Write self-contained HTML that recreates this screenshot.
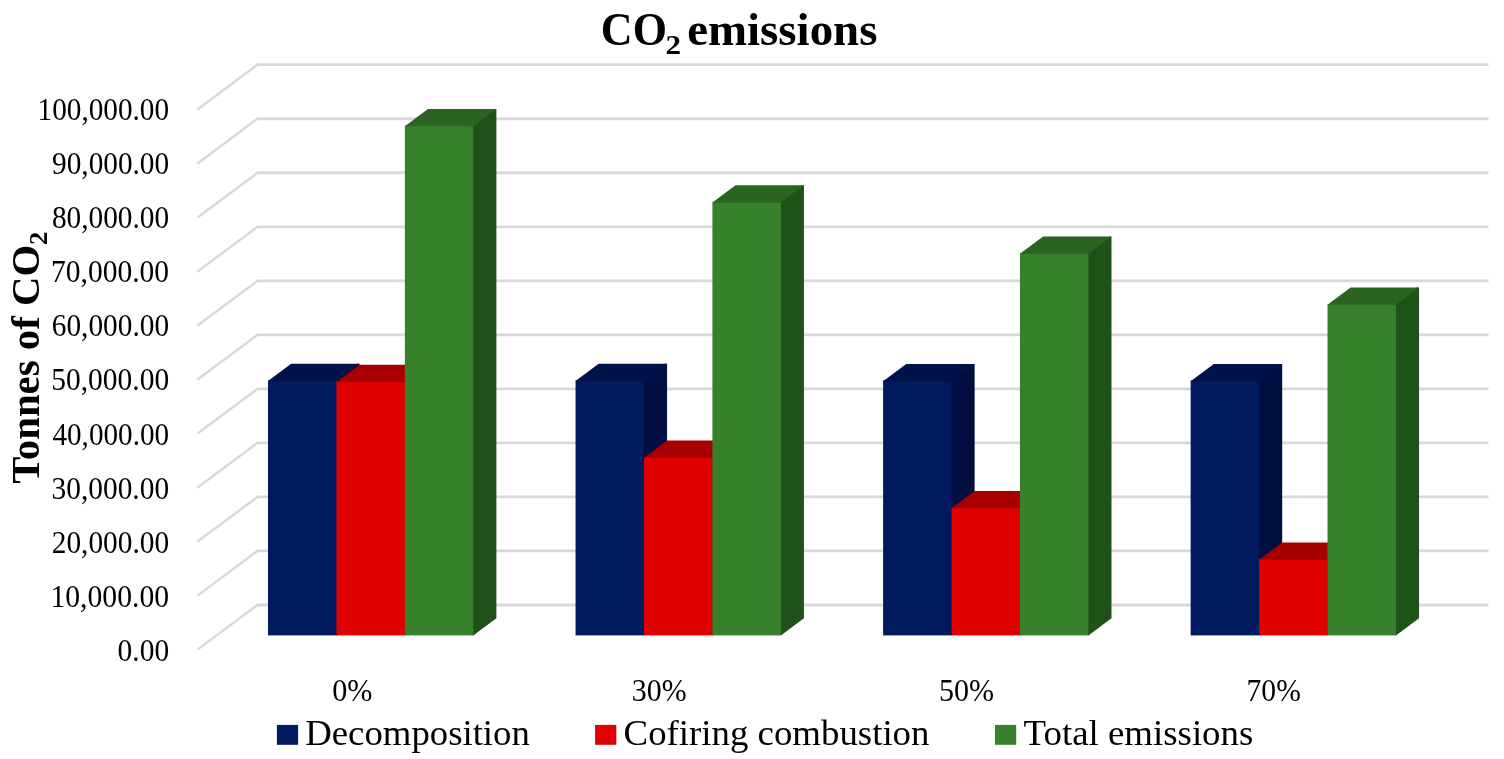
<!DOCTYPE html>
<html><head><meta charset="utf-8"><title>CO2 emissions</title>
<style>
html,body{margin:0;padding:0;background:#fff;}
body{width:1504px;height:759px;overflow:hidden;}
svg{display:block;}
text{font-family:"Liberation Serif","DejaVu Serif",serif;fill:#000;}
</style></head><body>
<svg width="1504" height="759" viewBox="0 0 1504 759">
<rect width="1504" height="759" fill="#fff"/>
<line x1="198.2" y1="649.10" x2="257.5" y2="605.00" stroke="#d9d9d9" stroke-width="2.4" stroke-linecap="round"/>
<line x1="256.9" y1="605.00" x2="1488.5" y2="605.00" stroke="#d9d9d9" stroke-width="2.8"/>
<line x1="198.2" y1="595.09" x2="257.5" y2="550.97" stroke="#d9d9d9" stroke-width="2.4" stroke-linecap="round"/>
<line x1="256.9" y1="550.97" x2="1488.5" y2="550.97" stroke="#d9d9d9" stroke-width="2.8"/>
<line x1="198.2" y1="541.08" x2="257.5" y2="496.94" stroke="#d9d9d9" stroke-width="2.4" stroke-linecap="round"/>
<line x1="256.9" y1="496.94" x2="1488.5" y2="496.94" stroke="#d9d9d9" stroke-width="2.8"/>
<line x1="198.2" y1="487.07" x2="257.5" y2="442.91" stroke="#d9d9d9" stroke-width="2.4" stroke-linecap="round"/>
<line x1="256.9" y1="442.91" x2="1488.5" y2="442.91" stroke="#d9d9d9" stroke-width="2.8"/>
<line x1="198.2" y1="433.06" x2="257.5" y2="388.88" stroke="#d9d9d9" stroke-width="2.4" stroke-linecap="round"/>
<line x1="256.9" y1="388.88" x2="1488.5" y2="388.88" stroke="#d9d9d9" stroke-width="2.8"/>
<line x1="198.2" y1="379.05" x2="257.5" y2="334.85" stroke="#d9d9d9" stroke-width="2.4" stroke-linecap="round"/>
<line x1="256.9" y1="334.85" x2="1488.5" y2="334.85" stroke="#d9d9d9" stroke-width="2.8"/>
<line x1="198.2" y1="325.04" x2="257.5" y2="280.82" stroke="#d9d9d9" stroke-width="2.4" stroke-linecap="round"/>
<line x1="256.9" y1="280.82" x2="1488.5" y2="280.82" stroke="#d9d9d9" stroke-width="2.8"/>
<line x1="198.2" y1="271.03" x2="257.5" y2="226.79" stroke="#d9d9d9" stroke-width="2.4" stroke-linecap="round"/>
<line x1="256.9" y1="226.79" x2="1488.5" y2="226.79" stroke="#d9d9d9" stroke-width="2.8"/>
<line x1="198.2" y1="217.02" x2="257.5" y2="172.76" stroke="#d9d9d9" stroke-width="2.4" stroke-linecap="round"/>
<line x1="256.9" y1="172.76" x2="1488.5" y2="172.76" stroke="#d9d9d9" stroke-width="2.8"/>
<line x1="198.2" y1="163.01" x2="257.5" y2="118.73" stroke="#d9d9d9" stroke-width="2.4" stroke-linecap="round"/>
<line x1="256.9" y1="118.73" x2="1488.5" y2="118.73" stroke="#d9d9d9" stroke-width="2.8"/>
<line x1="198.2" y1="109.00" x2="257.5" y2="64.70" stroke="#d9d9d9" stroke-width="2.4" stroke-linecap="round"/>
<line x1="256.9" y1="64.70" x2="1488.5" y2="64.70" stroke="#d9d9d9" stroke-width="2.8"/>
<rect x="268.00" y="380.30" width="69.23" height="255.10" fill="#001a5e"/>
<polygon points="336.43,381.10 333.93,381.10 357.03,363.85 359.53,363.85 359.53,618.15 336.43,635.40" fill="#000f40"/>
<polygon points="268.00,381.10 291.10,363.85 359.53,363.85 336.43,381.10" fill="#00124a"/>
<rect x="336.43" y="381.10" width="69.23" height="254.30" fill="#e00000"/>
<polygon points="404.86,381.90 402.36,381.90 425.46,364.65 427.96,364.65 427.96,618.15 404.86,635.40" fill="#9a0000"/>
<polygon points="336.43,381.90 359.53,364.65 427.96,364.65 404.86,381.90" fill="#a80000"/>
<rect x="404.86" y="125.40" width="69.23" height="510.00" fill="#38812c"/>
<polygon points="473.29,126.20 470.79,126.20 493.89,108.95 496.39,108.95 496.39,618.15 473.29,635.40" fill="#1f5219"/>
<polygon points="404.86,126.20 427.96,108.95 496.39,108.95 473.29,126.20" fill="#2a6420"/>
<rect x="575.55" y="380.30" width="69.23" height="255.10" fill="#001a5e"/>
<polygon points="643.98,381.10 641.48,381.10 664.58,363.85 667.08,363.85 667.08,618.15 643.98,635.40" fill="#000f40"/>
<polygon points="575.55,381.10 598.65,363.85 667.08,363.85 643.98,381.10" fill="#00124a"/>
<rect x="643.98" y="457.00" width="69.23" height="178.40" fill="#e00000"/>
<polygon points="712.41,457.80 709.91,457.80 733.01,440.55 735.51,440.55 735.51,618.15 712.41,635.40" fill="#9a0000"/>
<polygon points="643.98,457.80 667.08,440.55 735.51,440.55 712.41,457.80" fill="#a80000"/>
<rect x="712.41" y="201.80" width="69.23" height="433.60" fill="#38812c"/>
<polygon points="780.84,202.60 778.34,202.60 801.44,185.35 803.94,185.35 803.94,618.15 780.84,635.40" fill="#1f5219"/>
<polygon points="712.41,202.60 735.51,185.35 803.94,185.35 780.84,202.60" fill="#2a6420"/>
<rect x="883.10" y="380.40" width="69.23" height="255.00" fill="#001a5e"/>
<polygon points="951.53,381.20 949.03,381.20 972.13,363.95 974.63,363.95 974.63,618.15 951.53,635.40" fill="#000f40"/>
<polygon points="883.10,381.20 906.20,363.95 974.63,363.95 951.53,381.20" fill="#00124a"/>
<rect x="951.53" y="507.50" width="69.23" height="127.90" fill="#e00000"/>
<polygon points="1019.96,508.30 1017.46,508.30 1040.56,491.05 1043.06,491.05 1043.06,618.15 1019.96,635.40" fill="#9a0000"/>
<polygon points="951.53,508.30 974.63,491.05 1043.06,491.05 1019.96,508.30" fill="#a80000"/>
<rect x="1019.96" y="253.00" width="69.23" height="382.40" fill="#38812c"/>
<polygon points="1088.39,253.80 1085.89,253.80 1108.99,236.55 1111.49,236.55 1111.49,618.15 1088.39,635.40" fill="#1f5219"/>
<polygon points="1019.96,253.80 1043.06,236.55 1111.49,236.55 1088.39,253.80" fill="#2a6420"/>
<rect x="1190.65" y="380.50" width="69.23" height="254.90" fill="#001a5e"/>
<polygon points="1259.08,381.30 1256.58,381.30 1279.68,364.05 1282.18,364.05 1282.18,618.15 1259.08,635.40" fill="#000f40"/>
<polygon points="1190.65,381.30 1213.75,364.05 1282.18,364.05 1259.08,381.30" fill="#00124a"/>
<rect x="1259.08" y="559.00" width="69.23" height="76.40" fill="#e00000"/>
<polygon points="1327.51,559.80 1325.01,559.80 1348.11,542.55 1350.61,542.55 1350.61,618.15 1327.51,635.40" fill="#9a0000"/>
<polygon points="1259.08,559.80 1282.18,542.55 1350.61,542.55 1327.51,559.80" fill="#a80000"/>
<rect x="1327.51" y="304.00" width="69.23" height="331.40" fill="#38812c"/>
<polygon points="1395.94,304.80 1393.44,304.80 1416.54,287.55 1419.04,287.55 1419.04,618.15 1395.94,635.40" fill="#1f5219"/>
<polygon points="1327.51,304.80 1350.61,287.55 1419.04,287.55 1395.94,304.80" fill="#2a6420"/>
<text x="117.58" y="660.70" font-size="30.50" font-weight="normal" textLength="51.54" lengthAdjust="spacingAndGlyphs">0.00</text>
<text x="50.39" y="606.65" font-size="30.50" font-weight="normal" textLength="118.74" lengthAdjust="spacingAndGlyphs">10,000.00</text>
<text x="51.71" y="552.60" font-size="30.50" font-weight="normal" textLength="117.41" lengthAdjust="spacingAndGlyphs">20,000.00</text>
<text x="51.59" y="498.55" font-size="30.50" font-weight="normal" textLength="117.52" lengthAdjust="spacingAndGlyphs">30,000.00</text>
<text x="52.43" y="444.50" font-size="30.50" font-weight="normal" textLength="116.68" lengthAdjust="spacingAndGlyphs">40,000.00</text>
<text x="51.29" y="390.45" font-size="30.50" font-weight="normal" textLength="117.83" lengthAdjust="spacingAndGlyphs">50,000.00</text>
<text x="51.74" y="336.40" font-size="30.50" font-weight="normal" textLength="117.38" lengthAdjust="spacingAndGlyphs">60,000.00</text>
<text x="51.05" y="282.35" font-size="30.50" font-weight="normal" textLength="118.07" lengthAdjust="spacingAndGlyphs">70,000.00</text>
<text x="51.88" y="228.30" font-size="30.50" font-weight="normal" textLength="117.23" lengthAdjust="spacingAndGlyphs">80,000.00</text>
<text x="52.06" y="174.25" font-size="30.50" font-weight="normal" textLength="117.06" lengthAdjust="spacingAndGlyphs">90,000.00</text>
<text x="37.53" y="120.20" font-size="30.50" font-weight="normal" textLength="131.58" lengthAdjust="spacingAndGlyphs">100,000.00</text>
<text x="332.15" y="700.60" font-size="30.50" font-weight="normal" textLength="40.18" lengthAdjust="spacingAndGlyphs">0%</text>
<text x="631.87" y="700.60" font-size="30.50" font-weight="normal" textLength="54.85" lengthAdjust="spacingAndGlyphs">30%</text>
<text x="938.95" y="700.60" font-size="30.50" font-weight="normal" textLength="55.18" lengthAdjust="spacingAndGlyphs">50%</text>
<text x="1246.55" y="700.60" font-size="30.50" font-weight="normal" textLength="54.26" lengthAdjust="spacingAndGlyphs">70%</text>
<text x="600.85" y="44.50" font-size="45.80" font-weight="bold" textLength="66.10" lengthAdjust="spacingAndGlyphs">CO</text>
<text x="665.49" y="53.80" font-size="26.70" font-weight="bold" textLength="15.54" lengthAdjust="spacingAndGlyphs">2</text>
<text x="687.20" y="44.50" font-size="45.80" font-weight="bold" textLength="190.25" lengthAdjust="spacingAndGlyphs">emissions</text>
<g transform="rotate(-90)"><text x="-483.73" y="38.50" font-size="40.50" font-weight="bold" textLength="238.99" lengthAdjust="spacingAndGlyphs">Tonnes of CO</text><text x="-245.12" y="47.00" font-size="25.70" font-weight="bold" textLength="13.37" lengthAdjust="spacingAndGlyphs">2</text></g>
<rect x="276.9" y="724.9" width="21.2" height="19.9" fill="#001a5e"/>
<text x="305.24" y="744.80" font-size="35.00" font-weight="normal" textLength="224.62" lengthAdjust="spacingAndGlyphs">Decomposition</text>
<rect x="595.1" y="724.9" width="21.2" height="19.9" fill="#e00000"/>
<text x="623.59" y="744.80" font-size="35.00" font-weight="normal" textLength="305.87" lengthAdjust="spacingAndGlyphs">Cofiring combustion</text>
<rect x="995.0" y="724.9" width="21.2" height="19.9" fill="#38812c"/>
<text x="1023.64" y="744.80" font-size="35.00" font-weight="normal" textLength="229.67" lengthAdjust="spacingAndGlyphs">Total emissions</text>
</svg>
</body></html>
